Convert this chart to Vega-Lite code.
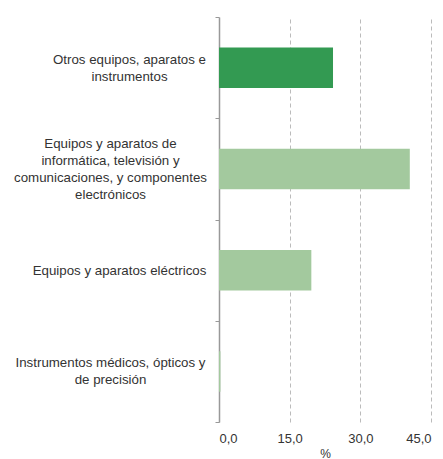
{
  "$schema": "https://vega.github.io/schema/vega-lite/v6.json",
  "autosize": {"type": "none"},
  "width": 212,
  "height": 405,
  "padding": {"left": 219, "top": 17, "right": 12, "bottom": 37},
  "background": "white",
  "config": {
    "view": {"stroke": null},
    "font": "Liberation Sans",
    "axis": {"labelFont": "Liberation Sans", "titleFont": "Liberation Sans", "labelColor": "#333333", "titleColor": "#333333"}
  },
  "data": {
    "values": [
      {"cat": "Otros equipos, aparatos e|instrumentos", "v": 24.2, "g": "a"},
      {"cat": "Equipos y aparatos de|informática, televisión y|comunicaciones, y componentes|electrónicos", "v": 40.5, "g": "b"},
      {"cat": "Equipos y aparatos eléctricos", "v": 19.6, "g": "b"},
      {"cat": "Instrumentos médicos, ópticos y|de precisión", "v": 0.3, "g": "b"}
    ]
  },
  "mark": {"type": "bar", "height": {"band": 0.4}},
  "encoding": {
    "y": {
      "field": "cat",
      "type": "nominal",
      "sort": null,
      "scale": {"paddingInner": 0, "paddingOuter": 0},
      "axis": {
        "title": null,
        "labelExpr": "isString(datum.value) ? split(datum.value, '|') : ''",
        "labelAlign": "center",
        "labelBaseline": "middle",
        "labelPadding": {
          "condition": [
            {"test": "isString(datum.value) && indexof(datum.value, 'Otros') >= 0", "value": 86},
            {"test": "isString(datum.value) && indexof(datum.value, 'eléctricos') >= 0", "value": 96}
          ],
          "value": 105
        },
        "labelOffset": {
          "condition": [
            {"test": "isString(datum.value) && indexof(datum.value, 'informática') >= 0", "value": -25.5},
            {"test": "isString(datum.value) && indexof(datum.value, 'eléctricos') >= 0", "value": 0}
          ],
          "value": -8.5
        },
        "labelFontSize": 13.3,
        "labelLineHeight": 17,
        "labelLimit": 300,
        "tickBand": "extent",
        "tickSize": 4,
        "tickColor": "#999999",
        "domainColor": "#999999",
        "domainWidth": 1.5,
        "grid": false
      }
    },
    "x": {
      "field": "v",
      "type": "quantitative",
      "scale": {"domain": [0, 45], "nice": false},
      "axis": {
        "title": "%",
        "titleFontSize": 12,
        "titleFontWeight": "normal",
        "titlePadding": 3,
        "values": [0, 15, 30, 45],
        "labelExpr": "replace(format(datum.value, '.1f'), '.', ',')",
        "labelFontSize": 13,
        "labelPadding": 10,
        "domain": false,
        "ticks": false,
        "grid": true,
        "gridColor": "#bbbbbb",
        "gridDash": [4, 3],
        "gridWidth": 1
      }
    },
    "color": {
      "field": "g",
      "type": "nominal",
      "scale": {"domain": ["a", "b"], "range": ["#339a52", "#a3c99e"]},
      "legend": null
    }
  }
}
